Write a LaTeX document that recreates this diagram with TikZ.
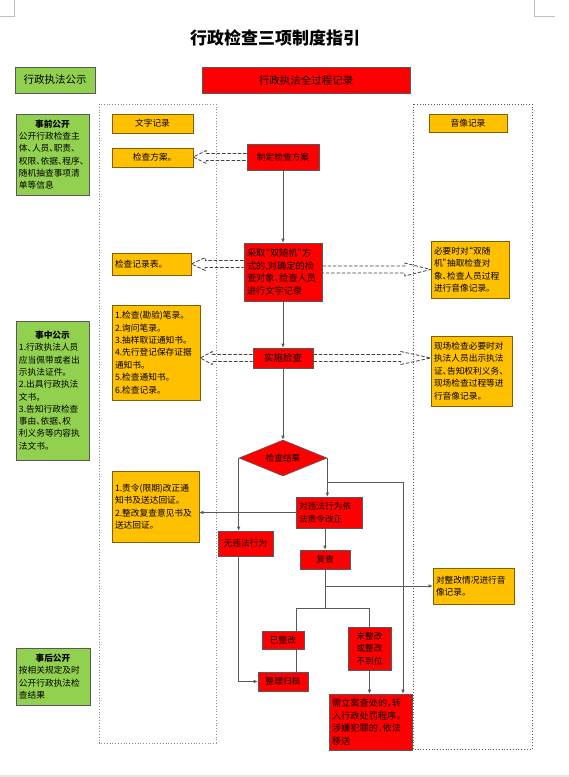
\documentclass[tikz,border=0pt]{standalone}
\usepackage{fontspec}
\setmainfont{Noto Sans CJK SC}[RawFeature=+halt]
\usetikzlibrary{arrows.meta,shapes.geometric,calc}
\definecolor{pubgreen}{HTML}{92D050}
\definecolor{recred}{HTML}{FF0000}
\definecolor{noteyellow}{HTML}{FFC000}
\definecolor{edgegray}{HTML}{595959}
\definecolor{notebrown}{HTML}{7F6000}

% dashed hollow arrow: start, tip, head length
\newcommand{\hollowarrow}[3]{%
  \draw[hollow] let \p1=(#1), \p2=(#2), \n1={ifthenelse(\x2>\x1,1,-1)} in
    (\x1,{\y1+3.5pt}) -- ({\x2-(\n1)*#3},{\y1+3.5pt}) -- ({\x2-(\n1)*#3},{\y1+6.5pt})
    -- (\x2,\y1) -- ({\x2-(\n1)*#3},{\y1-6.5pt}) -- ({\x2-(\n1)*#3},{\y1-3.5pt})
    -- (\x1,{\y1-3.5pt});}
% centred bold heading line in a text box
\newcommand{\boxhead}[1]{\hbox to\hsize{\hfil\bfseries #1\hfil}\\}

\begin{document}
\begin{tikzpicture}[
    x=1pt,y=-1pt,
    pubbox/.style={draw=edgegray,fill=pubgreen,line width=0.6pt,inner sep=3pt,
                   align=left,font=\fontsize{8.7}{12.3}\selectfont},
    recbox/.style={draw=edgegray,fill=recred,line width=0.6pt,inner sep=3pt,
                   align=center,font=\fontsize{8.7}{12.5}\selectfont},
    notebox/.style={draw=notebrown,fill=noteyellow,line width=0.6pt,inner sep=3pt,
                    align=left,font=\fontsize{8.7}{12.4}\selectfont},
    flow/.style={draw=edgegray,line width=0.6pt,-{Latex[length=4pt,width=3.5pt]}},
    link/.style={draw=edgegray,line width=0.6pt},
    hollow/.style={draw=black!75,line width=0.8pt,dash pattern=on 3.5pt off 1.8pt},
    frame/.style={draw=black!45,line width=0.8pt,dotted}
  ]
    \useasboundingbox (0,0) rectangle (569,777);
    % page marks
    \draw[black!25] (14,0) -- (14,16) -- (0,16);
    \draw[black!25] (534,0) -- (534,16) -- (555,16);
    \draw[black!10,line width=1.5pt] (0,776) -- (569,776);

    \node[font=\fontsize{17}{19}\selectfont\bfseries] (title) at (275,38) {行政检查三项制度指引};
    \node[pubbox,align=center,minimum width=80pt,minimum height=26pt,
          font=\fontsize{10.5}{12}\selectfont] (pub) at (55,80) {行政执法公示};
    \node[recbox,minimum width=208pt,minimum height=26pt,
          font=\fontsize{10.5}{12}\selectfont] (rec) at (306,80) {行政执法全过程记录};

    \draw[frame] (99,104) rectangle (216,743);
    \draw[frame,draw=black!65] (413,104) rectangle (532,749);

    % publicity column
    \node[pubbox,text width=67pt,minimum height=81pt] (pre) at (52.5,154.5)
      {\boxhead{事前公开}公开行政检查主\\体、人员、职责、\\权限、依据、程序、\\随机抽查事项清\\单等信息};
    \node[pubbox,text width=67pt,minimum height=139pt] (mid) at (52.5,390.5)
      {\boxhead{事中公示}1.行政执法人员\\应当佩带或者出\\示执法证件。\\2.出具行政执法\\文书。\\3.告知行政检查\\事由、依据、权\\利义务等内容执\\法文书。};
    \node[pubbox,text width=68pt,minimum height=57pt] (post) at (53,676.5)
      {\boxhead{事后公开}按相关规定及时\\公开行政执法检\\查结果};

    % written records
    \node[notebox,align=center,minimum width=81pt,minimum height=19pt] (wz) at (152.5,123.5) {文字记录};
    \node[notebox,align=center,minimum width=81pt,minimum height=19pt] (fa) at (152.5,157.5) {检查方案。};
    \node[notebox,text width=73pt,minimum height=22pt] (jlb) at (151.5,264) {检查记录表。};
    \node[notebox,text width=82pt,minimum height=95pt] (list) at (156,352.5)
      {1.检查(勘验)笔录。\\2.询问笔录。\\3.抽样取证通知书。\\4.先行登记保存证据\\通知书。\\5.检查通知书。\\6.检查记录。};
    \node[notebox,text width=81pt,minimum height=71pt] (zl) at (155.5,506.5)
      {1.责令(限期)改正通\\知书及送达回证。\\2.整改复查意见书及\\送达回证。};

    % audio-visual records
    \node[notebox,align=center,minimum width=78pt,minimum height=18pt] (yx) at (468,123) {音像记录};
    \node[notebox,text width=72pt,minimum height=57pt] (sjj) at (470,269.5)
      {必要时对“双随\\机”抽取检查对\\象、检查人员过程\\进行音像记录。};
    \node[notebox,text width=75pt,minimum height=70pt] (xc) at (471.5,371)
      {现场检查必要时对\\执法人员出示执法\\证、告知权利义务、\\现场检查过程等进\\行音像记录。};
    \node[notebox,text width=75pt,minimum height=36pt] (zg) at (473.5,586)
      {对整改情况进行音\\像记录。};

    % main flow
    \node[recbox,minimum width=72pt,minimum height=26pt] (plan) at (283,157) {制定检查方案};
    \node[recbox,align=left,text width=72pt,minimum height=58pt,
          font=\fontsize{9.2}{12.8}\selectfont] (sr) at (283,272)
      {采取“双随机”方\\式的,对确定的检\\查对象、检查人员\\进行文字记录};
    \node[recbox,minimum width=60pt,minimum height=20pt,
          font=\fontsize{9.5}{11}\selectfont] (impl) at (283,358) {实施检查};
    \node[recbox,diamond,aspect=2.4,inner sep=0pt,minimum width=88pt,
          minimum height=36pt] (res) at (283,458) {检查结果};
    \node[recbox,align=left,text width=60pt,minimum height=31pt] (wf) at (329,512.5)
      {对违法行为依\\法责令改正};
    \node[recbox,minimum width=55pt,minimum height=25pt] (nov) at (245.5,543.5) {无违法行为};
    \node[recbox,minimum width=50pt,minimum height=19pt] (fc) at (325,559.5) {复查};
    \node[recbox,minimum width=42pt,minimum height=18pt] (done) at (283,640) {已整改};
    \node[recbox,minimum width=50pt,minimum height=19pt] (arch) at (283,681.5) {整理归档};
    \node[recbox,minimum width=43pt,minimum height=43pt] (notdone) at (369.5,648.5)
      {未整改\\或整改\\不到位};
    \node[recbox,align=left,text width=77pt,minimum height=56pt,
          font=\fontsize{9.2}{12.4}\selectfont] (case) at (370.5,722)
      {需立案查处的，转\\入行政处罚程序。\\涉嫌犯罪的，依法\\移送};

    \draw[flow] (plan.south) -- (sr.north);
    \draw[flow] (sr.south) -- (impl.north);
    \draw[flow] (impl.south) -- (res.north);
    \draw[flow] (res.west) -- (res.west |- nov.north);
    \draw[flow] (res.east) -- (res.east |- wf.north);
    \coordinate (jr) at (403,482);
    \draw[flow] (res.east |- jr) -- (jr) -- (jr |- case.north);
    \draw[flow] (wf.west) -- (wf.west -| zl.east);
    \draw[flow] (fc.north |- wf.south) -- (fc.north);
    \coordinate (spl) at (296,608);
    \coordinate (spr) at (369,608);
    \draw[link] (fc.south) -- (fc.south |- spl);
    \draw[flow] (fc.south |- zg.west) -- (zg.west);
    \draw[link] (spl) -- (spr);
    \draw[link] (spl) -- (spl |- done.north);
    \draw[link] (spr) -- (spr |- notdone.north);
    \draw[link] (spl |- done.south) -- (spl |- arch.north);
    \draw[flow] (res.west |- nov.south) -- (res.west |- arch.west) -- (arch.west);
    \draw[flow] (notdone.south) -- (notdone.south |- case.north);

    % record links
    \hollowarrow{plan.west}{fa.east}{13pt}
    \hollowarrow{sr.west |- jlb.east}{jlb.east}{14pt}
    \hollowarrow{sr.east |- sjj.west}{sjj.west}{26pt}
    \hollowarrow{impl.west}{list.east |- impl.west}{12pt}
    \hollowarrow{impl.east}{xc.west |- impl.east}{30pt}
\end{tikzpicture}
\end{document}
